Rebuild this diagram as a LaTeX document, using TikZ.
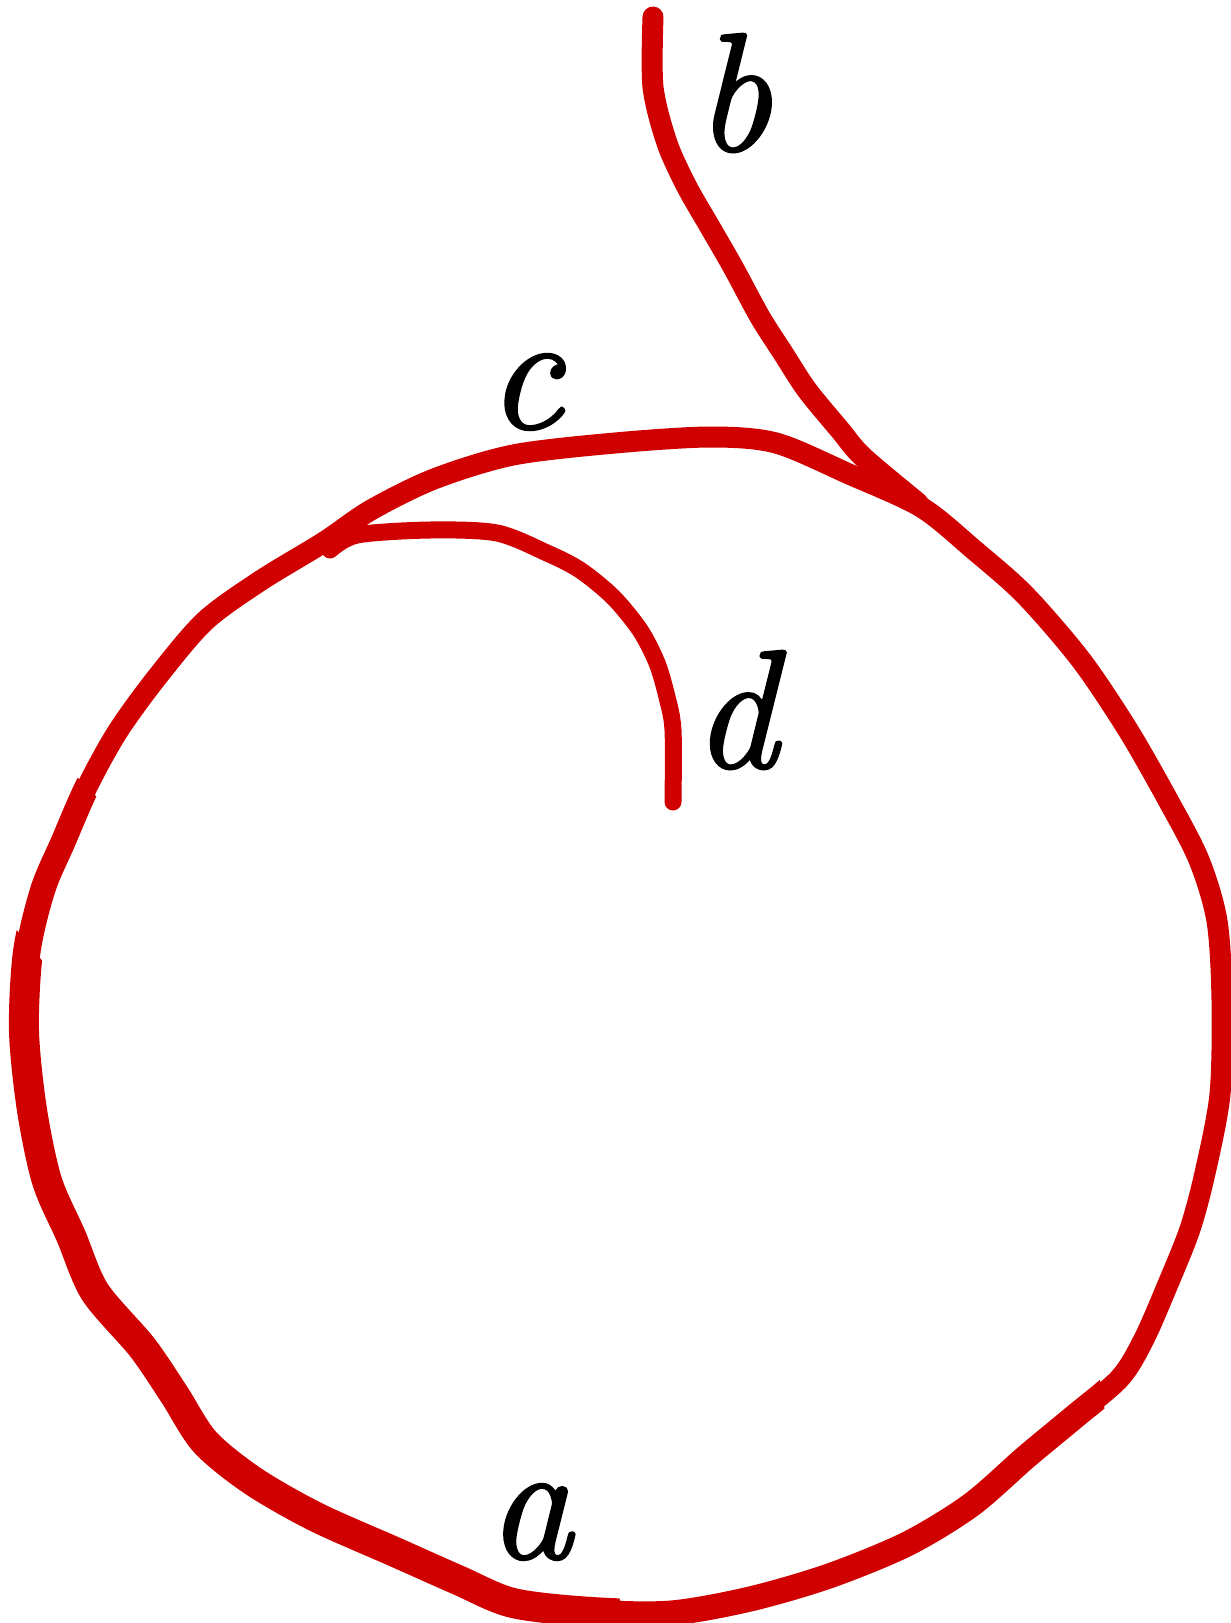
\documentclass[tikz,border=0pt]{standalone}
\usepackage{fontspec}
\newfontfamily\lblfont{Latin Modern Roman}[ItalicFeatures={FakeBold=1.6}]
\usepackage{xcolor}
\usepackage{tikz}

\definecolor{inkred}{RGB}{208,0,0}
\tikzset{
  ink/.style={inkred, line cap=round, line join=round},
  lbl/.style={font=\lblfont\fontsize{84}{96}\selectfont\itshape, inner sep=0pt}
}
\newcommand\loopcurve{plot[smooth cycle] coordinates {(324,542) (371,510) (434,479) (513,455) (615,443) (710,437) (776,443) (849,474) (921,507) (973,549) (1025,595) (1081,660) (1128,730) (1168,800) (1199,860) (1217,921) (1222,1000) (1220,1094) (1205,1173) (1190,1229) (1168,1284) (1144,1339) (1120,1378) (1073,1418) (1026,1457) (971,1505) (907,1544) (829,1576) (750,1599) (671,1613) (592,1612) (513,1603) (458,1580) (395,1552) (316,1517) (253,1481) (205,1442) (174,1394) (142,1347) (95,1292) (71,1236) (47,1181) (32,1110) (24,1031) (28,952) (43,889) (63,842) (87,787) (118,731) (158,676) (205,621) (260,581)}}

\begin{document}
\begin{tikzpicture}[x=0.5pt, y=-0.5pt]
    \useasboundingbox (0,0) rectangle (1231,1623);
    \coordinate (btop) at (653,17);
    \coordinate (bjoin) at (918,503);
    \coordinate (djoin) at (330,550);
    \coordinate (dend) at (673,802);
    % the loop, heavier towards the lower left
    \draw[ink, line width=10.5pt] \loopcurve;
    \begin{scope}
        \clip (-50,650) -- (250,950) -- (700,1250) -- (1100,1380) -- (1150,1700) -- (-50,1700) -- cycle;
        \draw[ink, line width=12.5pt] \loopcurve;
    \end{scope}
    \begin{scope}
        \clip (-50,850) -- (200,1150) -- (560,1450) -- (660,1700) -- (-50,1700) -- cycle;
        \draw[ink, line width=15pt] \loopcurve;
    \end{scope}
    % branches
    \draw[ink, line width=10.5pt] plot[smooth] coordinates {(btop) (653,87) (667,143) (687,187) (710,227) (733,267) (760,317) (783,353) (807,390) (840,430) (863,457) (bjoin)};
    \draw[ink, line width=8.5pt] plot[smooth] coordinates {(djoin) (357,535) (430,530) (497,533) (547,553) (580,570) (613,597) (640,630) (657,663) (667,697) (673,730) (dend)};
    \node[lbl] (lbla) at (530,1522) {a};
    \node[lbl] (lblb) at (733,93) {b};
    \node[lbl] (lblc) at (525,392) {c};
    \node[lbl] (lbld) at (735,710) {d};
\end{tikzpicture}
\end{document}
